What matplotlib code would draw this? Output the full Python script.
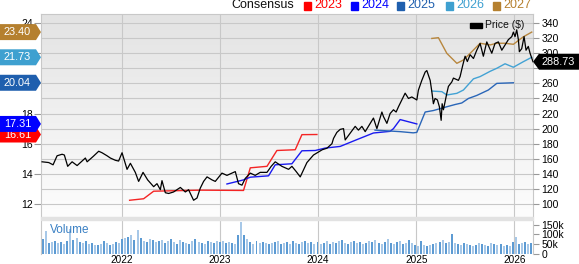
import numpy as np
import matplotlib
matplotlib.use("Agg")
import matplotlib.pyplot as plt
from matplotlib.patches import Polygon, Rectangle
from matplotlib.transforms import IdentityTransform
from matplotlib.colors import LinearSegmentedColormap

plt.rcParams['font.family'] = ['Liberation Sans', 'DejaVu Sans']

# ---------------- data ----------------
price_t = [2021.187, 2021.255, 2021.299, 2021.340, 2021.391, 2021.414, 2021.448, 2021.493, 2021.544, 2021.595,
           2021.628, 2021.646, 2021.707, 2021.764, 2021.798, 2021.849, 2021.883, 2021.934, 2021.967, 2022.002,
           2022.053, 2022.087, 2022.137, 2022.171, 2022.216, 2022.263, 2022.324, 2022.358, 2022.392, 2022.409,
           2022.443, 2022.477, 2022.527, 2022.596, 2022.647, 2022.680, 2022.731, 2022.766, 2022.799, 2022.833,
           2022.868, 2022.919, 2022.952, 2023.020, 2023.071, 2023.122, 2023.156, 2023.189, 2023.224, 2023.258,
           2023.309, 2023.359, 2023.410, 2023.479, 2023.522, 2023.563, 2023.631, 2023.699, 2023.733, 2023.777,
           2023.818, 2023.886, 2023.953, 2024.004, 2024.042, 2024.090, 2024.141, 2024.157, 2024.191, 2024.225,
           2024.259, 2024.276, 2024.327, 2024.378, 2024.411, 2024.446, 2024.480, 2024.531, 2024.564, 2024.599,
           2024.650, 2024.666, 2024.701, 2024.734, 2024.768, 2024.795, 2024.819, 2024.853, 2024.887, 2024.921,
           2024.955, 2025.006, 2025.022, 2025.057, 2025.091, 2025.108, 2025.142, 2025.159, 2025.175, 2025.192,
           2025.216, 2025.236, 2025.254, 2025.264, 2025.277, 2025.312, 2025.328, 2025.363, 2025.379, 2025.430,
           2025.447, 2025.474, 2025.498, 2025.521, 2025.549, 2025.583, 2025.617, 2025.651, 2025.684, 2025.719,
           2025.770, 2025.803, 2025.837, 2025.872, 2025.905, 2025.939, 2025.974, 2025.990, 2026.007, 2026.024,
           2026.041, 2026.051, 2026.075, 2026.099, 2026.119, 2026.142, 2026.160, 2026.190]
price_v = [156, 155, 152, 164, 166, 165, 150, 156, 151, 157,
           161, 156, 163, 170, 168, 164, 161, 158, 157, 168,
           146, 154, 142, 130, 142, 132, 123, 127, 119, 131,
           115, 114, 116, 122, 116, 119, 105, 108, 121, 130,
           136, 132, 130, 141, 138, 141, 143, 127, 125, 134,
           141, 138, 142, 142, 150, 156, 150, 146, 150, 143,
           136, 155, 165, 169, 172, 174, 180, 187, 195, 199,
           200, 185, 194, 203, 198, 203, 196, 207, 214, 200,
           222, 216, 207, 220, 225, 222, 229, 238, 247, 240,
           242, 238, 251, 264, 275, 277, 264, 249, 233, 240,
           238, 229, 211, 233, 225, 247, 256, 262, 267, 264,
           269, 284, 296, 289, 298, 293, 304, 313, 296, 315,
           300, 313, 315, 304, 311, 318, 322, 328, 322, 331,
           318, 302, 306, 322, 304, 309, 300, 288.73]

c2023_t = [2022.079, 2022.222, 2022.324, 2022.799, 2023.240, 2023.309, 2023.479, 2023.580, 2023.767, 2023.835, 2023.988]
c2023_v = [12.25, 12.35, 12.85, 12.92, 12.90, 14.40, 14.50, 15.55, 15.60, 16.60, 16.61]

c2024_t = [2023.071, 2023.240, 2023.309, 2023.495, 2023.563, 2023.733, 2023.835, 2023.971, 2024.072, 2024.225,
           2024.395, 2024.564, 2024.734, 2024.768, 2024.836, 2025.006]
c2024_v = [13.33, 13.60, 13.78, 13.87, 14.60, 14.67, 15.53, 15.55, 15.71, 15.82,
           16.27, 16.71, 16.82, 17.00, 17.60, 17.31]

c2025_t = [2024.580, 2024.836, 2024.969, 2025.006, 2025.091, 2025.175, 2025.312, 2025.397, 2025.464, 2025.532,
           2025.617, 2025.735, 2025.821, 2025.990]
c2025_v = [16.90, 16.80, 16.72, 16.75, 18.10, 18.20, 18.45, 18.60, 18.70, 19.00,
           19.20, 19.56, 20.00, 20.04]

c2026_t = [2025.159, 2025.261, 2025.312, 2025.414, 2025.481, 2025.583, 2025.651, 2025.753, 2025.821, 2025.905,
           2025.990, 2026.092, 2026.177]
c2026_v = [19.49, 19.45, 19.23, 19.34, 19.56, 20.30, 20.45, 20.80, 21.00, 21.30,
           21.07, 21.44, 21.73]

c2027_t = [2025.159, 2025.226, 2025.312, 2025.414, 2025.481, 2025.566, 2025.651, 2025.753, 2025.821, 2025.905,
           2025.990, 2026.092, 2026.177]
c2027_v = [22.98, 23.03, 21.99, 21.33, 21.55, 22.10, 22.66, 22.55, 22.66, 22.66,
           22.59, 23.09, 23.40]

volume_k = [75, 115, 55, 60, 65, 55, 60, 50, 65, 125, 70, 80, 60, 55, 65, 50, 55, 45, 45, 50, 65, 55, 45, 50, 60, 55,
            75, 80, 85, 95, 70, 120, 80, 65, 60, 75, 70, 60, 65, 70, 55, 65, 75, 60, 50, 70, 60, 55, 50, 65, 75, 60,
            55, 50, 65, 60, 55, 65,
            60, 65, 55, 60, 55, 50, 95, 165, 95, 75, 60, 50, 65, 55, 60, 55, 50, 55, 60, 65, 50, 55, 60, 50, 65, 55,
            50, 60, 65, 55, 60, 50,
            60, 50, 55, 65, 50, 60, 55, 65, 70, 55, 50, 60, 65, 55, 60, 50, 55, 65, 60, 70, 55, 50, 60, 75, 55, 50,
            60, 65, 50, 55, 70, 55,
            45, 40, 65, 45, 40, 45, 50, 55, 60, 70, 55, 60, 100, 55, 50, 45, 55, 50, 45, 40, 45, 55, 50, 45, 40, 55,
            50, 45, 50, 40, 45, 40,
            60, 85, 50, 55, 60, 50, 55]

years = [2022, 2023, 2024, 2025, 2026]
eps_ticks = [12, 14, 16, 18, 20, 22, 24]
eps_labels = ['12', '14', '16', '18', '', '', '24']          # 20 and 22 sit under the badges
price_ticks = [100, 120, 140, 160, 180, 200, 220, 240, 260, 280, 300, 320, 340]
price_labels = ['100', '120', '140', '160', '180', '200', '220', '240', '260', '', '300', '320', '340']
vol_ticks = [0, 50, 100, 150]
vol_labels = ['0', '50k', '100k', '150k']

series = [
    ('2023', c2023_t, c2023_v, '#f42424', '#ff0000'),
    ('2024', c2024_t, c2024_v, '#1a1af0', '#0000ff'),
    ('2025', c2025_t, c2025_v, '#2a66b8', '#1f5fae'),
    ('2026', c2026_t, c2026_v, '#42a2d4', '#3ea0d0'),
    ('2027', c2027_t, c2027_v, '#b8873e', '#b5802f'),
]

# ---------------- layout ----------------
W, H, DPI = 579, 264, 100
L, R, T, B = 41, 533, 14, 217
VT, VB = 220, 254
GRID = '#c8c8c8'
TXT = 7.5

fig = plt.figure(figsize=(W / DPI, H / DPI), dpi=DPI)
fig.patch.set_facecolor('white')

ax = fig.add_axes([L / W, 1 - B / H, (R - L) / W, (B - T) / H])
axv = fig.add_axes([L / W, 1 - VB / H, (R - L) / W, (VB - VT) / H])

xlim = (2021.176, 2026.19)
eps_lim = (11.14, 24.60)
price_lim = (100 + (eps_lim[0] - 12) * 20, 100 + (eps_lim[1] - 12) * 20)

# gradient background
cmap = LinearSegmentedColormap.from_list('bg', ['#e3e3e3', '#fdfdfd'])
grad = np.linspace(0, 1, 256).reshape(-1, 1)
ax.imshow(grad, extent=(0, 1, 0, 1), transform=ax.transAxes, aspect='auto', cmap=cmap, zorder=-10)

for name, t, v, lc, _ in series:
    ax.plot(t, v, color=lc, lw=1.0, zorder=3)

ax.set_xlim(*xlim)
ax.set_ylim(*eps_lim)
ax.set_yticks(eps_ticks)
ax.set_yticklabels(eps_labels)
ax.set_yticks([13, 15, 17, 19, 21, 23], minor=True)
ax.set_xticks(years)
ax.tick_params(axis='x', length=0, labelbottom=False)
ax.tick_params(axis='y', which='major', length=5, width=0.8, color='#999999', pad=1, labelsize=TXT)
ax.tick_params(axis='y', which='minor', length=0)
ax.grid(True, which='both', axis='y', color=GRID, lw=0.8, zorder=0)
ax.grid(True, which='major', axis='x', color=GRID, lw=0.8, zorder=0)
for s in ax.spines.values():
    s.set_color(GRID)
    s.set_linewidth(0.8)
ax.spines['bottom'].set_visible(False)

ax2 = ax.twinx()
ax2.plot(price_t, price_v, color='black', lw=0.9, zorder=5)
ax2.set_ylim(*price_lim)
ax2.set_yticks(price_ticks)
ax2.set_yticklabels(price_labels)
ax2.tick_params(axis='y', length=4, width=0.8, color='#999999', pad=2, labelsize=TXT)
for s in ax2.spines.values():
    s.set_visible(False)

# volume
n = len(volume_k)
vol_t = np.linspace(xlim[0] + 0.02, xlim[1] - 0.02, n)
step = vol_t[1] - vol_t[0]
cols = ['#5d9bd3' if i % 2 == 0 else '#a7c8e8' for i in range(n)]
axv.bar(vol_t, volume_k, width=step * 0.65, color=cols, zorder=2)
axv.set_xlim(*xlim)
axv.set_ylim(0, 173)
axv.set_xticks(years)
axv.set_xticklabels([str(y) for y in years])
axv.tick_params(axis='x', length=0, pad=0.5, labelsize=7.2)
axv.yaxis.tick_right()
axv.set_yticks(vol_ticks)
axv.set_yticklabels(vol_labels)
axv.tick_params(axis='y', length=4, width=0.8, color='#999999', pad=2, labelsize=TXT)
axv.grid(True, axis='x', color=GRID, lw=0.8, zorder=0)
axv.set_facecolor('white')
for k, s in axv.spines.items():
    s.set_color(GRID)
    s.set_linewidth(0.8)
axv.spines['top'].set_visible(False)
axv.spines['bottom'].set_visible(False)
axv.text(0.018, 0.72, 'Volume', transform=axv.transAxes, color='#3a80c4', fontsize=8.5, va='center', ha='left')

# separator band
fig.add_artist(Rectangle((L / W, 1 - VT / H), (R - L) / W, (VT - B) / H,
                         transform=fig.transFigure, color='#e2e2e2', zorder=1))

# top legend
ly = 1 - 5.5 / H
fig.text(231 / W, ly, 'Consensus', fontsize=9, va='center', ha='left', color='#111111')
leg_x = [304, 351, 397, 446, 493]
for (name, t, v, lc, tc), x0 in zip(series, leg_x):
    fig.add_artist(Rectangle((x0 / W, 1 - 9.5 / H), 7 / W, 7.5 / H, transform=fig.transFigure,
                             color=tc, zorder=2))
    fig.text((x0 + 10) / W, ly, name, fontsize=9, va='center', ha='left', color=tc)

# price legend inside plot
fig.add_artist(Rectangle((470 / W, 1 - 27.5 / H), 12 / W, 5 / H, transform=fig.transFigure,
                         color='black', zorder=3))
fig.text(485 / W, 1 - 25 / H, 'Price ($)', fontsize=7.5, va='center', ha='left', color='#111111', zorder=4)

# left badges (last consensus values)
fig.canvas.draw()
z = 10
for name, t, v, lc, tc in series:
    yc = ax.transData.transform((t[-1], v[-1]))[1]
    hh = 8
    poly = Polygon([(0, yc - hh), (36, yc - hh), (41, yc), (36, yc + hh), (0, yc + hh)],
                   closed=True, transform=IdentityTransform(), facecolor=tc, edgecolor='none', zorder=z)
    fig.add_artist(poly)
    fig.text(17.5 / W, yc / H, f'{v[-1]:.2f}', color='white', fontsize=7.8, ha='center', va='center',
             zorder=z + 1)
    z += 2

# right badge (last price)
yc = ax2.transData.transform((price_t[-1], price_v[-1]))[1]
poly = Polygon([(533, yc), (539, yc + 8), (579, yc + 8), (579, yc - 8), (539, yc - 8)],
               closed=True, transform=IdentityTransform(), facecolor='black', edgecolor='none', zorder=30)
fig.add_artist(poly)
fig.text(558.5 / W, yc / H, f'{price_v[-1]:.2f}', color='white', fontsize=7.8, ha='center', va='center', zorder=31)

fig.savefig('out.png', dpi=DPI)
